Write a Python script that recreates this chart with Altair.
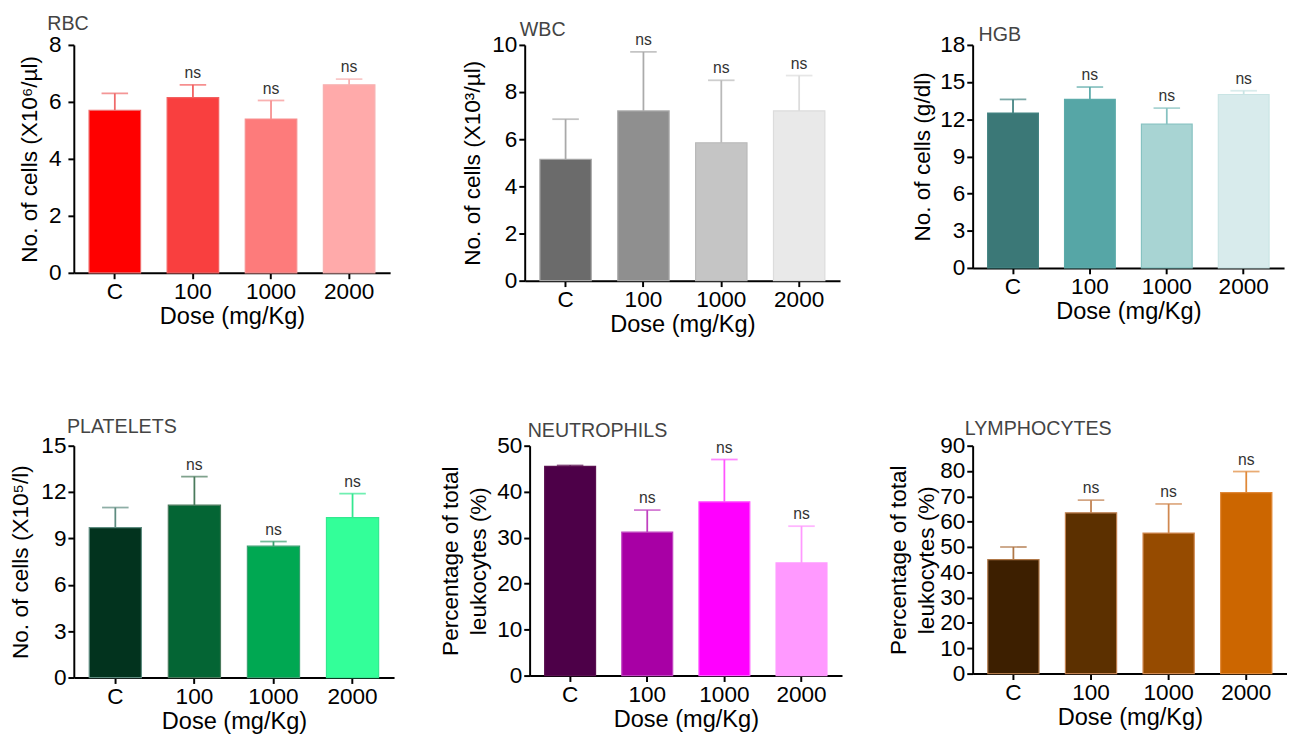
import altair as alt
import pandas as pd

DOSES = ["C", "100", "1000", "2000"]
NS = ["", "ns", "ns", "ns"]

# RBC (X10^6/µl)
rbc_mean = [5.7, 6.15, 5.4, 6.6]
rbc_upper = [6.3, 6.6, 6.05, 6.8]
# WBC (X10^3/µl)
wbc_mean = [5.15, 7.2, 5.85, 7.2]
wbc_upper = [6.85, 9.7, 8.5, 8.7]
# HGB (g/dl)
hgb_mean = [12.5, 13.6, 11.6, 14.0]
hgb_upper = [13.6, 14.6, 12.9, 14.3]
# Platelets (X10^5/l)
plt_mean = [9.7, 11.15, 8.5, 10.35]
plt_upper = [11.0, 13.0, 8.8, 11.9]
# Neutrophils (%)
neu_mean = [45.5, 31.2, 37.8, 24.5]
neu_upper = [45.7, 36.0, 47.0, 32.5]
# Lymphocytes (%)
lym_mean = [45.0, 63.5, 55.5, 71.5]
lym_upper = [50.0, 68.5, 67.0, 79.8]

FONT = "Liberation Sans"


def panel(name, ytitle, ymax, yvals, means, uppers, colors, ecolors, w, h,
          tdx, toff=4, tpad=8, lpad=2):
    df = pd.DataFrame({
        "dose": DOSES, "mean": means, "upper": uppers, "label": NS,
        "col": colors, "ecol": ecolors,
    })
    x = alt.X("dose:N", sort=DOSES,
              scale=alt.Scale(paddingInner=0.34, paddingOuter=0.195),
              axis=alt.Axis(title="Dose (mg/Kg)", labelAngle=0, titlePadding=2,
                            labelPadding=2, titleFontSize=24))
    yscale = alt.Scale(domain=[0, ymax], nice=False, zero=True)
    yaxis = alt.Axis(title=ytitle, values=yvals, labelOverlap=False,
                     titlePadding=tpad, labelPadding=lpad, titleLineHeight=29)
    base = alt.Chart(df)
    bars = base.mark_bar(strokeWidth=1.2).encode(
        x=x,
        y=alt.Y("mean:Q", scale=yscale, axis=yaxis),
        color=alt.Color("col:N", scale=None),
        stroke=alt.Stroke("ecol:N", scale=None),
    )
    rule = base.mark_rule(strokeWidth=1.8).encode(
        x=x, y=alt.Y("mean:Q", scale=yscale, axis=yaxis), y2="upper:Q",
        color=alt.Color("ecol:N", scale=None),
    )
    cap = base.mark_tick(thickness=1.8, size=27).encode(
        x=x, y=alt.Y("upper:Q", scale=yscale, axis=yaxis),
        color=alt.Color("ecol:N", scale=None),
    )
    txt = base.mark_text(dy=-12, fontSize=16, font=FONT, color="#333333").encode(
        x=x, y=alt.Y("upper:Q", scale=yscale, axis=yaxis), text="label:N",
    )
    return alt.layer(bars, rule, cap, txt).properties(
        width=w, height=h,
        title=alt.TitleParams(name, anchor="start", frame="group", dx=tdx,
                              offset=toff, fontSize=20, font=FONT,
                              fontWeight="normal", color="#444444"),
    )


p1 = panel("RBC", "No. of cells (X10⁶/µl)", 8, [0, 2, 4, 6, 8],
           rbc_mean, rbc_upper,
           ["#ff0000", "#f93f3f", "#fd7b7b", "#ffaaaa"],
           ["#f06a6a", "#f26060", "#f79090", "#f7b0b0"], 322, 232, -27,
           toff=0, tpad=7, lpad=7)
p2 = panel("WBC", "No. of cells (X10³/µl)", 10, [0, 2, 4, 6, 8, 10],
           wbc_mean, wbc_upper,
           ["#6b6b6b", "#8f8f8f", "#c5c5c5", "#e9e9e9"],
           ["#a9a9a9", "#ababab", "#b9b9b9", "#dcdcdc"], 321, 240, -5,
           toff=-8, tpad=7)
p3 = panel("HGB", "No. of cells (g/dl)", 18, [0, 3, 6, 9, 12, 15, 18],
           hgb_mean, hgb_upper,
           ["#3b7877", "#56a6a6", "#a8d4d3", "#d8ebec"],
           ["#438382", "#5cabaa", "#86c2c1", "#c9e4e4"], 317, 227, 6,
           toff=-11, tpad=5)
p4 = panel("PLATELETS", "No. of cells (X10⁵/l)", 15, [0, 3, 6, 9, 12, 15],
           plt_mean, plt_upper,
           ["#02331e", "#046534", "#00a852", "#33ff99"],
           ["#5e8c80", "#4a7a5c", "#3aa070", "#33e890"], 326, 236, -7,
           toff=-2, tpad=9)
p5 = panel("NEUTROPHILS", ["Percentage of total", "leukocytes (%)"], 50,
           [0, 10, 20, 30, 40, 50],
           neu_mean, neu_upper,
           ["#4d0048", "#a800a5", "#ff00ff", "#ff99ff"],
           ["#5a1050", "#c040c0", "#ff55ff", "#ff99ff"], 318, 234, -2,
           toff=-6, tpad=6)
p6 = panel("LYMPHOCYTES", ["Percentage of total", "leukocytes (%)"], 90,
           [0, 10, 20, 30, 40, 50, 60, 70, 80, 90],
           lym_mean, lym_upper,
           ["#3d1f00", "#5c3000", "#964b00", "#cc6600"],
           ["#b07848", "#c08050", "#d08850", "#e08838"], 320, 232, -8,
           toff=-4, tpad=1)

row1 = alt.hconcat(p1, p2, p3, spacing=73)
row2 = alt.hconcat(p4, p5, p6, spacing=46)
chart = alt.vconcat(row1, row2, spacing=82).configure_axis(
    labelFont=FONT, titleFont=FONT, labelFontSize=23, titleFontSize=23,
    titleFontWeight="normal", labelColor="black", titleColor="black",
    domainColor="black", domainWidth=2, tickColor="black", tickWidth=2,
    tickSize=6, grid=False,
).configure_view(stroke=None).properties(
    padding={"left": 1, "top": 0, "right": 0, "bottom": 0}
)

chart.save("out.html", embed_options={"renderer": "svg", "actions": False})
